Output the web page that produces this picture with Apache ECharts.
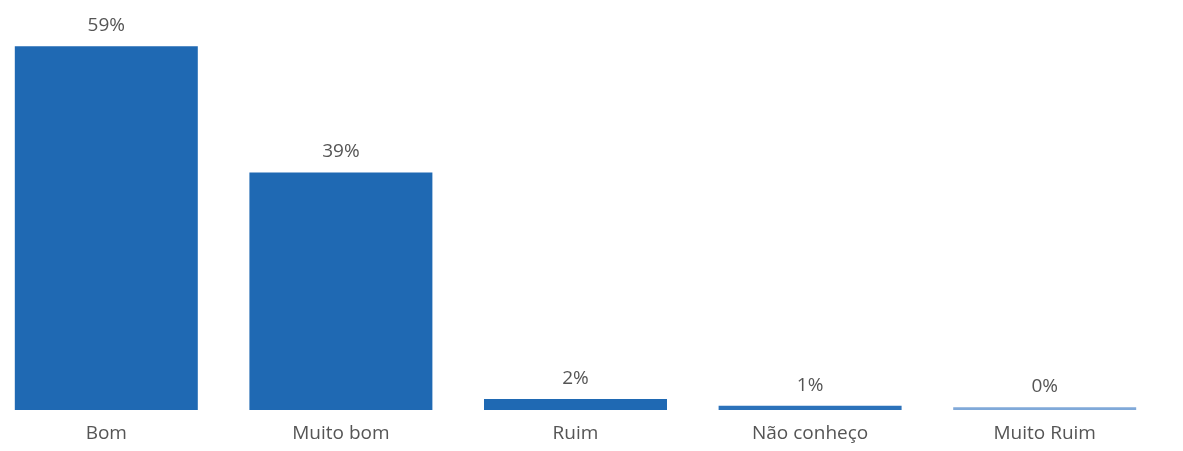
<!DOCTYPE html>
<html>
<head>
<meta charset="utf-8">
<script src="https://cdn.jsdelivr.net/npm/echarts@6/dist/echarts.min.js"></script>
<style>html,body{margin:0;padding:0;background:#fff;overflow:hidden;}#c{position:absolute;left:-11px;top:0;width:1194px;height:451px;}</style>
</head>
<body>
<div id="c"></div>
<script>
const categories = ["Bom", "Muito bom", "Ruim", "Não conheço", "Muito Ruim"];
const values = [59, 38.5, 1.8, 0.7, 0.45];
const valueLabels = ["59%", "39%", "2%", "1%", "0%"];
const barColors = ["#1f69b3", "#1f69b3", "#1f69b3", "#2c72ba", "#80a9d9"];

const chart = echarts.init(document.getElementById('c'));
chart.setOption({
  animation: false,
  grid: { left: 0, right: 21, top: 40, bottom: 41, containLabel: false },
  xAxis: {
    type: 'category',
    data: categories,
    axisLine: { show: false },
    axisTick: { show: false },
    axisLabel: { color: '#555555', fontSize: 19, fontFamily: 'Open Sans', margin: 14 }
  },
  yAxis: {
    type: 'value', min: 0, max: 60,
    show: false
  },
  series: [{
    type: 'bar',
    barCategoryGap: '22%',
    data: values.map((v, i) => ({ value: v, itemStyle: { color: barColors[i] } })),
    label: {
      show: true, position: 'top', distance: 11,
      color: '#555555', fontSize: 19, fontFamily: 'Open Sans',
      formatter: p => valueLabels[p.dataIndex]
    }
  }]
});
</script>
</body>
</html>
